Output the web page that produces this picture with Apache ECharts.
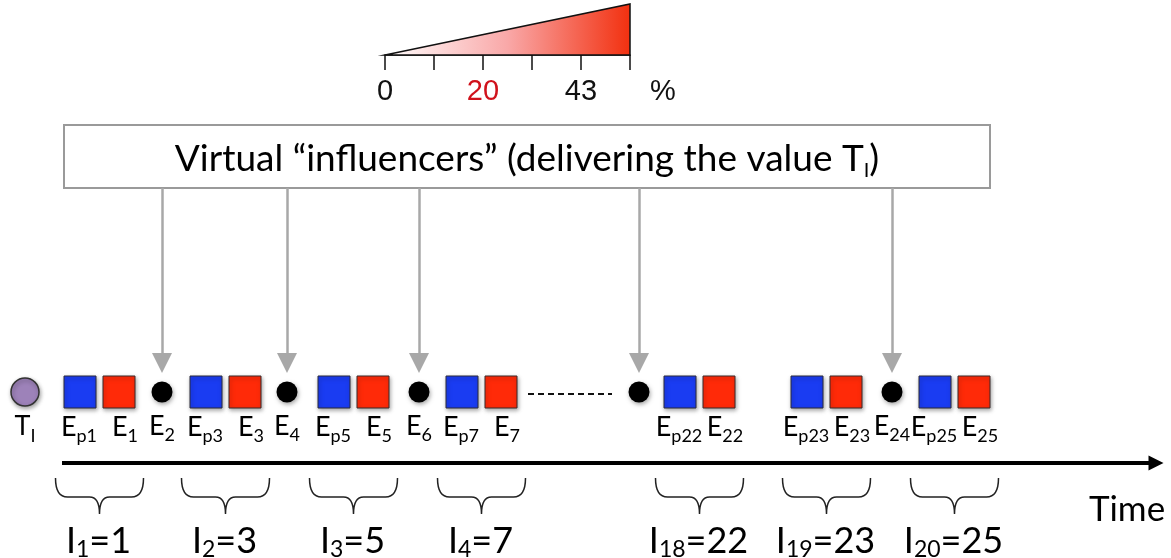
<!DOCTYPE html>
<html>
<head>
<meta charset="utf-8">
<script src="https://cdn.jsdelivr.net/npm/echarts@6/dist/echarts.min.js"></script>
<style>
html, body { margin: 0; padding: 0; background: #fff; }
#chart { width: 1171px; height: 558px; }
</style>
</head>
<body>
<div id="chart"></div>
<script>
// positions on the time line and the subscripts of each event
var epTimes = [80, 206, 334, 462, 680, 807, 935];
var epSubs = ['p1', 'p3', 'p5', 'p7', 'p22', 'p23', 'p25'];
var eTimes = [119, 245, 373, 501, 719, 846, 974];
var eSubs = ['1', '3', '5', '7', '22', '23', '25'];
var influencerTimes = [162, 287, 419, 639, 892];
var influencerSubs = ['2', '4', '6', '', '24'];
var intervalSubs = ['1', '2', '3', '4', '18', '19', '20'];
var intervalValues = [1, 3, 5, 7, 22, 23, 25];
var startTime = 25;
// colour scale at the top
var scaleTicks = [0, 1, 2, 3, 4, 5];
var scaleLabels = ['0', '', '20', '', '43', ''];

var ROW = 392;
var FONT = 'Lato';
var TXT = '#000';

var subRich = {
  m: { fontSize: 27, fontFamily: FONT, color: TXT, lineHeight: 30 },
  s: { fontSize: 18, fontFamily: FONT, color: TXT, lineHeight: 20, padding: [18, 0, 0, 0] }
};

function pts(xs, subs) {
  return xs.map(function (x, i) { return { value: [x, ROW], sub: subs[i] }; });
}

function eLabel(p) {
  return p.data.sub === '' ? '' : '{m|E}{s|' + p.data.sub + '}';
}

var shadow = { opacity: 1, shadowBlur: 4, shadowColor: 'rgba(0,0,0,0.35)', shadowOffsetX: 1, shadowOffsetY: 2 };

var option = {
  animation: false,
  grid: [
    { left: 0, right: 0, top: 0, bottom: 0 },
    { left: 385, top: 4, width: 245, height: 51 }
  ],
  xAxis: [
    { type: 'value', min: 0, max: 1171, show: false },
    {
      type: 'value', gridIndex: 1, min: 0, max: 5, interval: 1,
      axisLine: { lineStyle: { color: '#111', width: 1.5 } },
      axisTick: { length: 15, lineStyle: { color: '#111', width: 1.5 } },
      splitLine: { show: false },
      axisLabel: {
        margin: 22, fontSize: 29, fontFamily: 'Liberation Sans', color: '#111',
        formatter: function (v) {
          var t = scaleLabels[scaleTicks.indexOf(v)];
          return t === '20' ? '{r|20}' : t;
        },
        rich: { r: { fontSize: 29, fontFamily: 'Liberation Sans', color: '#d0121b' } }
      },
      name: '%', nameLocation: 'end', nameGap: 20,
      nameTextStyle: { fontSize: 29, fontFamily: 'Liberation Sans', color: '#111', verticalAlign: 'top', padding: [22, 0, 0, 0] }
    }
  ],
  yAxis: [
    { type: 'value', min: 0, max: 558, inverse: true, show: false },
    { type: 'value', gridIndex: 1, min: 0, max: 1, show: false }
  ],
  series: [
    {
      // gradient wedge
      type: 'custom', xAxisIndex: 1, yAxisIndex: 1, silent: true,
      data: [[0, 0, 5, 1]],
      renderItem: function (params, api) {
        var a = api.coord([0, 0]), b = api.coord([5, 0]), c = api.coord([5, 1]);
        return {
          type: 'polygon',
          shape: { points: [a, b, c] },
          style: {
            fill: new echarts.graphic.LinearGradient(0, 0, 1, 0, [
              { offset: 0, color: '#ffffff' },
              { offset: 0.5, color: '#f9a8a8' },
              { offset: 1, color: '#f2300f' }
            ]),
            stroke: '#111', lineWidth: 1.5
          }
        };
      }
    },
    {
      // influencer box
      type: 'custom', silent: true,
      data: [[64, 125, 990, 188]],
      renderItem: function (params, api) {
        var p0 = api.coord([api.value(0), api.value(1)]);
        var p1 = api.coord([api.value(2), api.value(3)]);
        return {
          type: 'group',
          children: [
            {
              type: 'rect',
              shape: { x: p0[0], y: p0[1], width: p1[0] - p0[0], height: p1[1] - p0[1] },
              style: { fill: '#fff', stroke: '#9a9a9a', lineWidth: 2 }
            },
            {
              type: 'text',
              x: (p0[0] + p1[0]) / 2, y: (p0[1] + p1[1]) / 2 + 3,
              style: {
                text: '{m|Virtual \u201cinfluencers\u201d (delivering the value T}{s|I}{m|)}',
                align: 'center', verticalAlign: 'middle',
                rich: {
                  m: { fontSize: 37, fontFamily: FONT, color: TXT, lineHeight: 40 },
                  s: { fontSize: 20, fontFamily: FONT, color: TXT, lineHeight: 20, padding: [22, 0, 0, 0] }
                }
              }
            }
          ]
        };
      }
    },
    {
      // arrows from the influencers
      type: 'lines', coordinateSystem: 'cartesian2d', silent: true,
      symbol: ['none', 'triangle'], symbolSize: 20,
      lineStyle: { color: '#a8a8a8', width: 2.5, opacity: 1 },
      data: influencerTimes.map(function (x) { return { coords: [[x, 188], [x, 363]] }; })
    },
    {
      // time axis
      type: 'lines', coordinateSystem: 'cartesian2d', silent: true,
      symbol: ['none', 'triangle'], symbolSize: 15,
      lineStyle: { color: '#000', width: 4, opacity: 1 },
      data: [{ coords: [[62, 463], [1156, 463]] }]
    },
    {
      // dashed gap
      type: 'lines', coordinateSystem: 'cartesian2d', silent: true,
      lineStyle: { color: '#111', width: 2, type: [6, 4], opacity: 1 },
      data: [{ coords: [[528, 394], [612, 394]] }]
    },
    {
      type: 'scatter', symbol: 'circle', symbolSize: 28,
      itemStyle: Object.assign({ color: '#9d82b9', borderColor: '#333', borderWidth: 1.5 }, shadow),
      label: { show: true, position: 'bottom', distance: 5, formatter: '{m|T}{s|I}', rich: subRich },
      data: [[startTime, ROW]]
    },
    {
      type: 'scatter', symbol: 'rect', symbolSize: 32,
      itemStyle: Object.assign({ color: '#1a3cf2', borderColor: '#2b2b3a', borderWidth: 1 }, shadow),
      label: { show: true, position: 'bottom', distance: 4, offset: [-1, 0], formatter: eLabel, rich: subRich },
      data: pts(epTimes, epSubs)
    },
    {
      type: 'scatter', symbol: 'rect', symbolSize: 32,
      itemStyle: Object.assign({ color: '#ff2a08', borderColor: '#3a2b2b', borderWidth: 1 }, shadow),
      label: { show: true, position: 'bottom', distance: 4, offset: [6, 0], formatter: eLabel, rich: subRich },
      data: pts(eTimes, eSubs)
    },
    {
      type: 'scatter', symbol: 'circle', symbolSize: 21,
      itemStyle: Object.assign({ color: '#000' }, shadow),
      label: { show: true, position: 'bottom', distance: 9, formatter: eLabel, rich: subRich },
      data: pts(influencerTimes, influencerSubs)
    },
    {
      // braces and interval labels
      type: 'custom', silent: true,
      data: epTimes.map(function (x, i) { return [(x + eTimes[i]) / 2, i]; }),
      renderItem: function (params, api) {
        var cx = api.value(0), i = api.value(1);
        var l = api.coord([cx - 44, 478]), r = api.coord([cx + 44, 478]);
        var m = api.coord([cx, 497]), t = api.coord([cx, 514]);
        var x0 = l[0], x1 = r[0], xc = m[0], y0 = l[1], ym = m[1], yt = t[1];
        var d = 'M' + x0 + ',' + y0 + ' Q' + x0 + ',' + ym + ' ' + (x0 + 12) + ',' + ym +
          ' L' + (xc - 10) + ',' + ym + ' Q' + xc + ',' + ym + ' ' + xc + ',' + yt +
          ' Q' + xc + ',' + ym + ' ' + (xc + 10) + ',' + ym +
          ' L' + (x1 - 12) + ',' + ym + ' Q' + x1 + ',' + ym + ' ' + x1 + ',' + y0;
        var lp = api.coord([cx - 1, 541]);
        return {
          type: 'group',
          children: [
            { type: 'path', shape: { pathData: d }, style: { fill: null, stroke: '#222', lineWidth: 1.5 } },
            {
              type: 'text', x: lp[0], y: lp[1],
              style: {
                text: '{m|I}{s|' + intervalSubs[i] + '}{m|=' + intervalValues[i] + '}',
                align: 'center', verticalAlign: 'middle',
                rich: {
                  m: { fontSize: 36, fontFamily: FONT, color: TXT, lineHeight: 40 },
                  s: { fontSize: 23, fontFamily: FONT, color: TXT, lineHeight: 24, padding: [18, 0, 0, 0] }
                }
              }
            }
          ]
        };
      }
    },
    {
      type: 'scatter', symbolSize: 1, itemStyle: { color: 'rgba(0,0,0,0)', opacity: 1 },
      label: { show: true, position: 'inside', formatter: 'Time', fontSize: 35, fontFamily: FONT, color: TXT },
      data: [[1127, 510]]
    }
  ]
};

echarts.init(document.getElementById('chart')).setOption(option);
</script>
</body>
</html>
